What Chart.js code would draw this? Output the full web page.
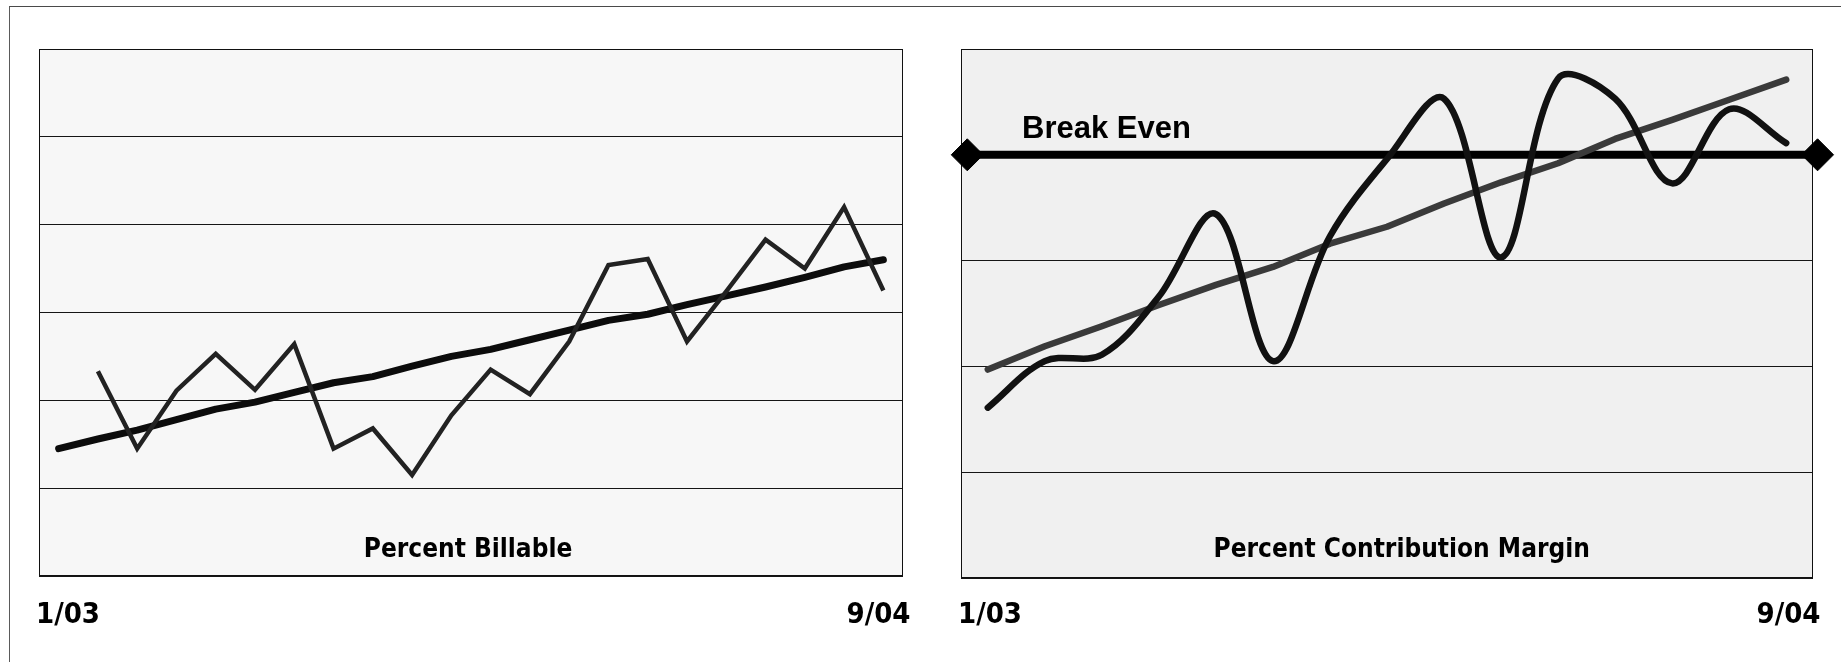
<!DOCTYPE html>
<html>
<head>
<meta charset="utf-8">
<title>Percent Billable / Percent Contribution Margin</title>
<script src="https://cdn.jsdelivr.net/npm/chart.js@4/dist/chart.umd.min.js"></script>
<style>
  html, body { margin: 0; padding: 0; background: #ffffff; }
  #page { position: relative; width: 1841px; height: 662px; overflow: hidden; background: #ffffff; }
  #frame { position: absolute; left: 9px; top: 6px; width: 1900px; height: 700px;
           border-left: 1px solid #5a5a5a; border-top: 1px solid #4a4a4a; }
  #billable { position: absolute; left: 0; top: 0; }
  #margin { position: absolute; left: 930px; top: 0; }
</style>
</head>
<body>
<div id="page">
  <div id="frame"></div>
  <canvas id="billable" width="930" height="662"></canvas>
  <canvas id="margin" width="911" height="662"></canvas>
</div>
<script>
// ---- Percent Billable (monthly) ----
const billableMonths = ['12/02', '1/03', '2/03', '3/03', '4/03', '5/03', '6/03', '7/03', '8/03', '9/03', '10/03',
                        '11/03', '12/03', '1/04', '2/04', '3/04', '4/04', '5/04', '6/04', '7/04', '8/04', '9/04'];
const percentBillable = [null, 2.33, 1.45, 2.11, 2.53, 2.12, 2.64, 1.45, 1.68, 1.15, 1.83,
                         2.35, 2.07, 2.67, 3.54, 3.61, 2.67, 3.24, 3.83, 3.50, 4.20, 3.25];
const billableTrend = [1.45, 1.56, 1.66, 1.78, 1.90, 1.98, 2.09, 2.20, 2.27, 2.39, 2.50,
                       2.58, 2.69, 2.80, 2.91, 2.98, 3.09, 3.19, 3.29, 3.40, 3.52, 3.60];

// ---- Percent Contribution Margin ----
const marginPeriods = [0, 1, 2, 3, 4, 5, 6, 7, 8, 9, 10, 11, 12, 13, 14];
const contributionMargin = [1.61, 2.05, 2.11, 2.66, 3.44, 2.05, 3.23, 3.96, 4.53, 3.03, 4.72, 4.53, 3.73, 4.43, 4.11];
const marginTrend = [1.97, 2.19, 2.38, 2.58, 2.77, 2.94, 3.16, 3.32, 3.54, 3.74, 3.92, 4.15, 4.33, 4.52, 4.71];
const breakEvenLevel = 4;
const breakEvenSpan = [-0.36, 14.55];

// ---- Axis end labels ----
const tickLabels = ['1/03', '9/04'];

const labelFont = '"DejaVu Sans Condensed", "DejaVu Sans", Verdana, sans-serif';

// Plot background and frame
const panelFrame = {
  id: 'panelFrame',
  beforeDraw(chart, args, opts) {
    const { ctx, chartArea: a } = chart;
    ctx.save();
    ctx.fillStyle = opts.fill;
    ctx.fillRect(a.left, a.top, a.right - a.left, a.bottom - a.top);
    ctx.restore();
  },
  beforeDatasetsDraw(chart, args, opts) {
    const { ctx, chartArea: a } = chart;
    ctx.save();
    ctx.strokeStyle = opts.stroke;
    ctx.lineWidth = 1;
    ctx.strokeRect(a.left + 0.5, a.top + 0.5, a.right - a.left - 1, a.bottom - a.top - 1);
    ctx.restore();
  }
};

// Caption inside the plot, end labels under it, optional reference-line label
const panelText = {
  id: 'panelText',
  afterDraw(chart, args, opts) {
    const { ctx, chartArea: a } = chart;
    ctx.save();
    ctx.fillStyle = '#000000';
    ctx.textBaseline = 'alphabetic';

    ctx.font = 'bold 26px ' + labelFont;
    ctx.textAlign = 'center';
    ctx.fillText(opts.caption, (a.left + a.right) / 2 + opts.captionShift, opts.captionY);

    ctx.font = 'bold 29px ' + labelFont;
    ctx.textAlign = 'left';
    ctx.fillText(opts.tickLabels[0], a.left - 3, 623);
    ctx.textAlign = 'right';
    ctx.fillText(opts.tickLabels[opts.tickLabels.length - 1], a.right + 7.5, 623);

    if (opts.lineLabel) {
      const ds = chart.data.datasets[opts.lineLabel];
      const y = chart.scales.y.getPixelForValue(ds.data[0].y);
      ctx.font = 'bold 31px "Liberation Sans", Arial, sans-serif';
      ctx.textAlign = 'left';
      ctx.fillText(ds.label, a.left + 61, y - 17);
    }
    ctx.restore();
  }
};

Chart.register(panelFrame, panelText);

const gridY = (max) => ({
  min: 0, max: max,
  ticks: { display: false, stepSize: 1 },
  border: { display: false },
  grid: { color: '#151515', lineWidth: 1, drawTicks: false }
});

new Chart(document.getElementById('billable'), {
  type: 'line',
  data: {
    labels: billableMonths,
    datasets: [
      {
        label: 'Percent Billable',
        data: percentBillable,
        borderColor: '#222222',
        borderWidth: 4.5,
        borderJoinStyle: 'miter',
        borderCapStyle: 'butt',
        pointRadius: 0,
        tension: 0
      },
      {
        label: 'Trend',
        data: billableTrend,
        borderColor: '#0c0c0c',
        borderWidth: 7,
        borderJoinStyle: 'round',
        borderCapStyle: 'round',
        pointRadius: 0,
        tension: 0
      }
    ]
  },
  options: {
    responsive: false,
    animation: false,
    events: [],
    layout: { autoPadding: false, padding: { left: 39, top: 49, right: 27, bottom: 86 } },
    scales: {
      x: { type: 'category', offset: true, display: false },
      y: gridY(6)
    },
    plugins: {
      legend: { display: false },
      tooltip: { enabled: false },
      panelFrame: { fill: '#f7f7f7', stroke: '#111111' },
      panelText: { caption: 'Percent Billable', captionShift: -3, captionY: 557, tickLabels: tickLabels }
    }
  }
});

new Chart(document.getElementById('margin'), {
  type: 'line',
  data: {
    datasets: [
      {
        label: 'Percent Contribution Margin',
        data: marginPeriods.map((p, i) => ({ x: p, y: contributionMargin[i] })),
        borderColor: '#111111',
        borderWidth: 6.5,
        borderJoinStyle: 'round',
        borderCapStyle: 'round',
        pointRadius: 0,
        tension: 0.35
      },
      {
        label: 'Trend',
        data: marginPeriods.map((p, i) => ({ x: p, y: marginTrend[i] })),
        borderColor: '#3a3a3a',
        borderWidth: 6.5,
        borderJoinStyle: 'round',
        borderCapStyle: 'round',
        pointRadius: 0,
        tension: 0
      },
      {
        label: 'Break Even',
        data: breakEvenSpan.map(x => ({ x: x, y: breakEvenLevel })),
        borderColor: '#000000',
        borderWidth: 8,
        pointStyle: 'rectRot',
        pointRadius: 16,
        pointBackgroundColor: '#000000',
        pointBorderColor: '#000000',
        pointBorderWidth: 1,
        clip: false,
        tension: 0
      }
    ]
  },
  options: {
    responsive: false,
    animation: false,
    events: [],
    layout: { autoPadding: false, padding: { left: 31, top: 49, right: 28, bottom: 84 } },
    scales: {
      x: { type: 'linear', min: -0.47, max: 14.47, display: false },
      y: gridY(5)
    },
    plugins: {
      legend: { display: false },
      tooltip: { enabled: false },
      panelFrame: { fill: '#f0f0f0', stroke: '#111111' },
      panelText: { caption: 'Percent Contribution Margin', captionShift: 14.7, captionY: 557,
                   tickLabels: tickLabels, lineLabel: 2 }
    }
  }
});
</script>
</body>
</html>
